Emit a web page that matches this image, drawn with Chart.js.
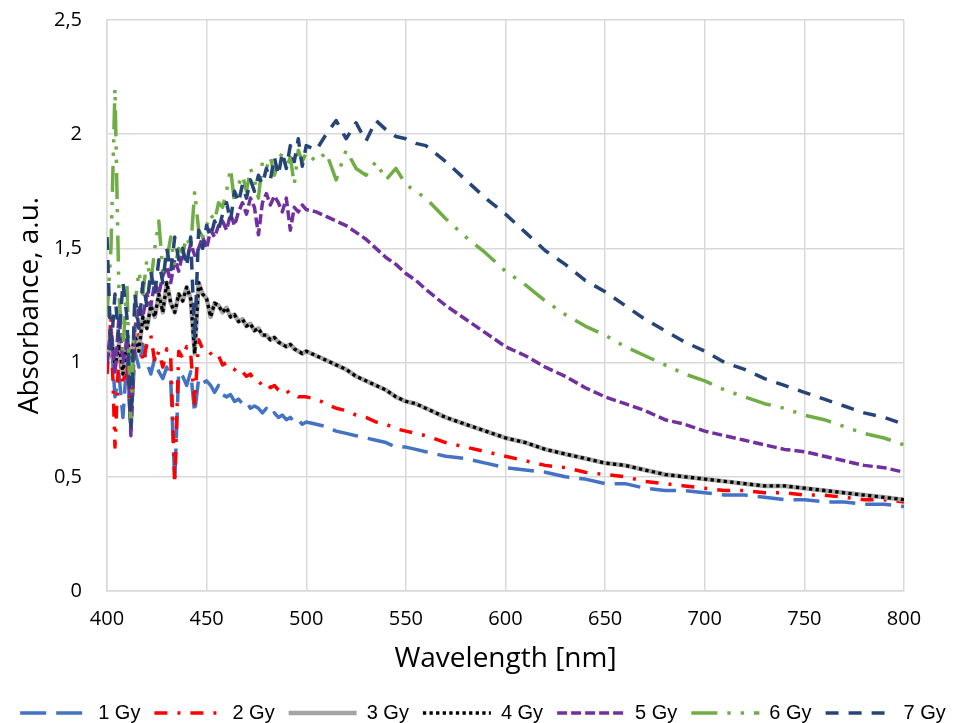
<!DOCTYPE html>
<html>
<head>
<meta charset="utf-8">
<script src="https://cdn.jsdelivr.net/npm/chart.js@4/dist/chart.umd.min.js"></script>
<style>
  body { margin: 0; background: #fff; }
  #wrap { width: 966px; height: 723px; }
</style>
</head>
<body>
<div id="wrap"><canvas id="absChart" width="966" height="723"></canvas></div>
<script>
// wavelength grid (nm)
const wavelengths = [
  400,402,404,406,408,410,412,414,416,418,
  420,422,424,426,428,430,432,434,436,438,
  440,442,444,446,448,450,452,454,456,458,
  460,462,464,466,468,470,472,474,476,478,
  480,482,484,486,488,490,492,494,496,498,
  500,
  505,510,515,520,525,530,535,540,545,550,555,560,
  570,580,590,600,610,620,630,640,650,660,670,680,
  690,700,710,720,730,740,750,760,770,780,790,800
];

const gy1 = [
  1.00,1.12,0.85,0.95,0.76,1.02,0.70,1.05,0.98,1.08,
  1.00,0.95,1.02,0.96,0.93,0.98,0.92,0.48,0.96,0.94,
  0.90,0.96,0.78,0.93,0.91,0.92,0.90,0.87,0.90,0.86,
  0.85,0.86,0.83,0.84,0.82,0.83,0.80,0.81,0.80,0.78,
  0.80,0.77,0.78,0.76,0.77,0.75,0.76,0.74,0.75,0.73,
  0.74,
  0.73,0.72,0.70,0.69,0.68,0.67,0.66,0.65,0.63,0.63,0.62,0.61,
  0.59,0.58,0.56,0.54,0.53,0.52,0.50,0.49,0.47,0.47,0.45,0.44,
  0.44,0.43,0.42,0.42,0.41,0.40,0.40,0.39,0.39,0.38,0.38,0.37
];
const gy2 = [
  0.95,1.20,0.63,1.05,0.90,1.02,0.75,1.10,1.15,1.00,
  1.08,1.12,1.00,1.05,0.98,1.06,1.02,0.47,1.05,1.02,
  1.07,1.04,0.82,1.10,1.06,1.06,1.04,1.02,1.03,0.99,
  1.00,0.98,0.97,0.95,0.96,0.94,0.95,0.92,0.92,0.90,
  0.91,0.89,0.90,0.88,0.87,0.88,0.86,0.86,0.85,0.85,
  0.85,
  0.84,0.82,0.80,0.79,0.77,0.76,0.74,0.73,0.71,0.70,0.69,0.68,
  0.65,0.63,0.61,0.59,0.57,0.55,0.54,0.52,0.51,0.50,0.48,0.47,
  0.46,0.45,0.44,0.44,0.43,0.43,0.42,0.42,0.41,0.40,0.40,0.39
];
const gy3 = [
  1.00,1.12,0.98,1.08,0.95,1.10,1.02,1.12,1.05,1.20,
  1.15,1.25,1.20,1.30,1.22,1.35,1.26,1.22,1.30,1.27,
  1.33,1.28,1.04,1.35,1.30,1.28,1.20,1.26,1.25,1.22,
  1.24,1.20,1.21,1.18,1.19,1.16,1.17,1.14,1.15,1.12,
  1.12,1.10,1.11,1.09,1.08,1.07,1.08,1.06,1.05,1.04,
  1.05,
  1.03,1.01,0.99,0.97,0.94,0.92,0.90,0.88,0.85,0.83,0.82,0.80,
  0.76,0.73,0.70,0.67,0.65,0.62,0.60,0.58,0.56,0.55,0.53,0.51,
  0.50,0.49,0.48,0.47,0.46,0.46,0.45,0.44,0.43,0.42,0.41,0.40
];
const gy4 = [
  1.00,1.12,0.98,1.08,0.95,1.10,1.02,1.12,1.05,1.20,
  1.15,1.25,1.20,1.30,1.22,1.35,1.26,1.22,1.30,1.27,
  1.33,1.28,1.04,1.35,1.30,1.28,1.20,1.26,1.25,1.22,
  1.24,1.20,1.21,1.18,1.19,1.16,1.17,1.14,1.15,1.12,
  1.12,1.10,1.11,1.09,1.08,1.07,1.08,1.06,1.05,1.04,
  1.05,
  1.03,1.01,0.99,0.97,0.94,0.92,0.90,0.88,0.85,0.83,0.82,0.80,
  0.76,0.73,0.70,0.67,0.65,0.62,0.60,0.58,0.56,0.55,0.53,0.51,
  0.50,0.49,0.48,0.47,0.46,0.46,0.45,0.44,0.43,0.42,0.41,0.40
];
const gy5 = [
  1.00,1.15,0.95,1.20,1.00,1.10,0.68,1.15,1.25,1.20,
  1.30,1.25,1.35,1.30,1.38,1.42,1.35,1.45,1.40,1.48,
  1.45,1.52,1.47,1.50,1.55,1.50,1.58,1.55,1.60,1.62,
  1.58,1.65,1.60,1.66,1.70,1.65,1.72,1.68,1.56,1.70,
  1.74,1.69,1.73,1.70,1.66,1.72,1.58,1.68,1.66,1.69,
  1.67,
  1.66,1.64,1.62,1.60,1.57,1.54,1.50,1.46,1.43,1.39,1.36,1.32,
  1.25,1.19,1.13,1.07,1.03,0.98,0.94,0.89,0.85,0.82,0.79,0.75,
  0.73,0.70,0.68,0.66,0.64,0.62,0.61,0.59,0.57,0.55,0.54,0.52
];
const gy6 = [
  1.20,1.50,2.20,1.30,1.05,1.35,0.72,1.25,1.40,1.30,
  1.45,1.35,1.50,1.62,1.40,1.45,1.55,1.42,1.50,1.48,
  1.55,1.50,1.75,1.58,1.55,1.60,1.65,1.62,1.70,1.68,
  1.75,1.85,1.70,1.78,1.82,1.75,1.85,1.80,1.72,1.88,
  1.85,1.90,1.82,1.88,1.92,1.85,1.90,1.78,1.93,1.88,
  1.92,
  1.88,1.92,1.80,1.93,1.85,1.82,1.88,1.80,1.85,1.78,1.75,1.72,
  1.63,1.55,1.48,1.40,1.34,1.27,1.21,1.16,1.12,1.07,1.03,0.99,
  0.95,0.92,0.88,0.85,0.82,0.80,0.77,0.75,0.72,0.69,0.67,0.64
];
const gy7 = [
  1.55,1.05,1.30,1.10,1.35,1.20,0.72,1.30,1.15,1.35,
  1.25,1.40,1.30,1.45,1.35,1.50,1.40,1.55,1.45,1.50,
  1.42,1.55,1.10,1.58,1.50,1.60,1.55,1.62,1.58,1.65,
  1.70,1.62,1.75,1.70,1.78,1.72,1.80,1.75,1.82,1.78,
  1.85,1.80,1.90,1.82,1.92,1.85,1.95,1.88,1.98,1.86,
  1.95,
  1.93,2.00,2.06,1.98,2.05,1.97,2.06,2.02,1.99,1.98,1.96,1.95,
  1.88,1.80,1.72,1.65,1.57,1.49,1.43,1.36,1.31,1.25,1.19,1.14,
  1.09,1.05,1.00,0.97,0.93,0.90,0.87,0.84,0.81,0.78,0.76,0.73
];

const seriesNames = ['1 Gy', '2 Gy', '3 Gy', '4 Gy', '5 Gy', '6 Gy', '7 Gy'];
const xTicks = [400, 450, 500, 550, 600, 650, 700, 750, 800];
const yTicks = [0, 0.5, 1, 1.5, 2, 2.5];

function pts(vals) {
    return vals.map((v, i) => ({ x: wavelengths[i], y: v }));
}

// colour, width and dash for each series (Excel-like line styles)
const styles = [
    { color: '#4472C4', width: 3.5, dash: [26, 10] },
    { color: '#FF0000', width: 3.5, dash: [13, 10, 3, 10] },
    { color: '#A5A5A5', width: 4.5, dash: [] },
    { color: '#000000', width: 3.3, dash: [3.3, 3.3] },
    { color: '#7030A0', width: 3.5, dash: [10, 4] },
    { color: '#70AD47', width: 3.5, dash: [26, 10, 3.3, 10, 3.3, 10] },
    { color: '#264478', width: 3.5, dash: [13, 10] }
];

const allSeries = [gy1, gy2, gy3, gy4, gy5, gy6, gy7];

const datasets = allSeries.map((vals, i) => ({
    label: seriesNames[i],
    data: pts(vals),
    borderColor: styles[i].color,
    backgroundColor: styles[i].color,
    borderWidth: styles[i].width,
    borderDash: styles[i].dash,
    borderJoinStyle: 'round',
    pointRadius: 0,
    tension: 0,
    order: 7 - i   // later series drawn on top, like Excel
}));

const tickFont = { family: "'Open Sans', sans-serif", size: 20 };
const titleFont = { family: "'Open Sans', sans-serif", size: 28 };

const ctx = document.getElementById('absChart').getContext('2d');
new Chart(ctx, {
    type: 'line',
    data: { datasets: datasets },
    options: {
        responsive: false,
        animation: false,
        layout: { padding: { top: 20, right: 0, left: 0, bottom: -10 } },
        plugins: {
            legend: {
                position: 'bottom',
                labels: {
                    usePointStyle: true,
                    pointStyle: 'line',
                    pointStyleWidth: 68,
                    boxHeight: 10,
                    padding: 14,
                    color: '#000',
                    font: { family: "'Liberation Sans', Arial, sans-serif", size: 20 },
                    // legend samples need the dataset dash patterns
                    generateLabels: function(chart) {
                        return chart.data.datasets.map((ds, i) => ({
                            text: ds.label,
                            strokeStyle: ds.borderColor,
                            fillStyle: ds.borderColor,
                            lineWidth: ds.borderWidth,
                            lineDash: ds.borderDash,
                            pointStyle: 'line',
                            fontColor: '#000',
                            hidden: false,
                            datasetIndex: i
                        }));
                    }
                }
            },
            tooltip: { enabled: false }
        },
        scales: {
            x: {
                type: 'linear',
                min: 400,
                max: 800,
                afterBuildTicks: function(scale) {
                    scale.ticks = xTicks.map(v => ({ value: v }));
                },
                afterFit: function(scale) { scale.height = 98; },
                grid: { color: '#d9d9d9', lineWidth: 1.5, drawTicks: false },
                border: { color: '#d9d9d9', width: 1.5 },
                ticks: {
                    padding: 16,
                    color: '#000',
                    font: tickFont
                },
                title: {
                    display: true,
                    text: 'Wavelength [nm]',
                    color: '#000',
                    font: titleFont,
                    padding: { top: 0, bottom: 13 }
                }
            },
            y: {
                min: 0,
                max: 2.5,
                afterBuildTicks: function(scale) {
                    scale.ticks = yTicks.map(v => ({ value: v }));
                },
                afterFit: function(scale) {
                    scale.width = 107;
                    scale.paddingTop = 0;
                    scale.paddingBottom = 0;
                },
                grid: { color: '#d9d9d9', lineWidth: 1.5, drawTicks: false },
                border: { color: '#d9d9d9', width: 1.5 },
                ticks: {
                    padding: 25,
                    color: '#000',
                    font: tickFont,
                    callback: v => String(v).replace('.', ',')
                },
                title: {
                    display: true,
                    text: 'Absorbance, a.u.',
                    color: '#000',
                    font: titleFont,
                    padding: { top: 13, bottom: 0 }
                }
            },
            // empty right-hand spacer so the plot ends where the reference ends
            spacer: {
                position: 'right',
                grid: { display: false },
                ticks: { display: false },
                border: { display: false },
                afterFit: function(scale) { scale.width = 62; }
            }
        }
    }
});
</script>
</body>
</html>
